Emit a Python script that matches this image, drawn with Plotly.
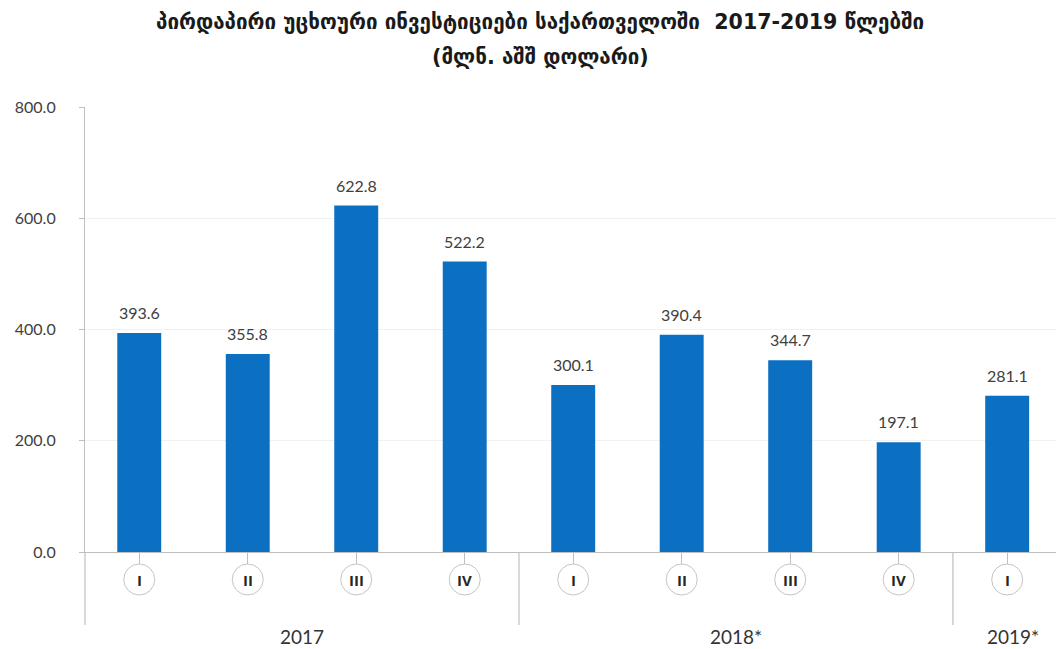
import plotly.graph_objects as go

# ---- data ----
quarters = ["I", "II", "III", "IV", "I", "II", "III", "IV", "I"]
values = [393.6, 355.8, 622.8, 522.2, 300.1, 390.4, 344.7, 197.1, 281.1]
years = ["2017", "2018*", "2019*"]
year_sizes = [4, 4, 1]
y_ticks = [0, 200, 400, 600, 800]
title_line1 = "პირდაპირი უცხოური ინვესტიციები საქართველოში  2017-2019 წლებში"
title_line2 = "(მლნ. აშშ დოლარი)"

BAR = "#0b6fc2"
AXIS = "#bfbfbf"
TXT = "#404040"
FONT = "Lato"

idx = list(range(len(values)))

fig = go.Figure()
fig.add_trace(go.Bar(
    x=idx, y=values, width=0.405,
    marker=dict(color=BAR, line=dict(width=0)),
    hoverinfo="skip",
))

annotations = []
shapes = []

# value labels
for i, v in zip(idx, values):
    annotations.append(dict(
        x=i, y=v, xref="x", yref="y", text=f"{v:.1f}", showarrow=False,
        yanchor="bottom", yshift=9, font=dict(family=FONT, size=16, color=TXT),
    ))

# quarter circles + roman numerals
for i, q in zip(idx, quarters):
    shapes.append(dict(
        type="circle", xref="x", yref="paper", xsizemode="pixel", ysizemode="pixel",
        xanchor=i, yanchor=0, x0=-15.5, x1=15.5, y0=-12, y1=-43,
        line=dict(color="#c4c4c4", width=1), fillcolor="white", layer="above",
    ))
    annotations.append(dict(
        x=i, y=0, xref="x", yref="paper", text=f"<b>{q}</b>", showarrow=False,
        yanchor="middle", yshift=-28, font=dict(family="Open Sans", size=15, color="#262626"),
    ))

# year groups
start = 0
bounds = []
for name, n in zip(years, year_sizes):
    center = start + (n - 1) / 2
    if n == 1:
        center = start + 0.05
    annotations.append(dict(
        x=center, y=0, xref="x", yref="paper", text=name, showarrow=False,
        yanchor="middle", yshift=-84, font=dict(family=FONT, size=19, color="#333333"),
    ))
    start += n
    bounds.append(start - 0.5)

for b in bounds[:-1]:
    shapes.append(dict(
        type="line", xref="x", yref="paper", ysizemode="pixel", yanchor=0,
        x0=b, x1=b, y0=0, y1=-73, line=dict(color=AXIS, width=1.2),
    ))
# left axis extension
shapes.append(dict(
    type="line", xref="paper", yref="paper", ysizemode="pixel", yanchor=0,
    x0=0, x1=0, y0=0, y1=-73, line=dict(color=AXIS, width=1.2),
))

# title lines
TX = (540 - 85) / 971
annotations.append(dict(x=TX, y=1, xref="paper", yref="paper", yanchor="middle", yshift=85,
                        text=f"<b>{title_line1}</b>", showarrow=False,
                        font=dict(family="DejaVu Sans", size=20.6, color="#1a1a1a")))
annotations.append(dict(x=TX, y=1, xref="paper", yref="paper", yanchor="middle", yshift=50,
                        text=f"<b>{title_line2}</b>", showarrow=False,
                        font=dict(family="DejaVu Sans", size=20.6, color="#1a1a1a")))

fig.update_layout(
    width=1056, height=649,
    margin=dict(l=85, r=0, t=107, b=97, pad=0),
    paper_bgcolor="white", plot_bgcolor="white",
    showlegend=False,
    xaxis=dict(
        range=[-0.5, 8.45], tickvals=idx, showticklabels=False,
        ticks="outside", ticklen=12, tickcolor=AXIS, tickwidth=1.2,
        showline=True, linecolor=AXIS, linewidth=1.2, showgrid=False, zeroline=False,
        fixedrange=True,
    ),
    yaxis=dict(
        range=[0, 800], tickvals=y_ticks, tickformat=".1f",
        ticks="outside", ticklen=5, tickcolor=AXIS, tickwidth=1.2, ticklabelstandoff=20,
        showline=True, linecolor=AXIS, linewidth=1.2,
        showgrid=True, gridcolor="#f1f1f1", gridwidth=1, zeroline=False,
        tickfont=dict(family=FONT, size=16, color=TXT), fixedrange=True,
    ),
    shapes=shapes,
    annotations=annotations,
)

fig.write_html("out.html", config={"displayModeBar": False},
               post_script="document.body.style.margin='0px';document.body.style.overflow='hidden';")
